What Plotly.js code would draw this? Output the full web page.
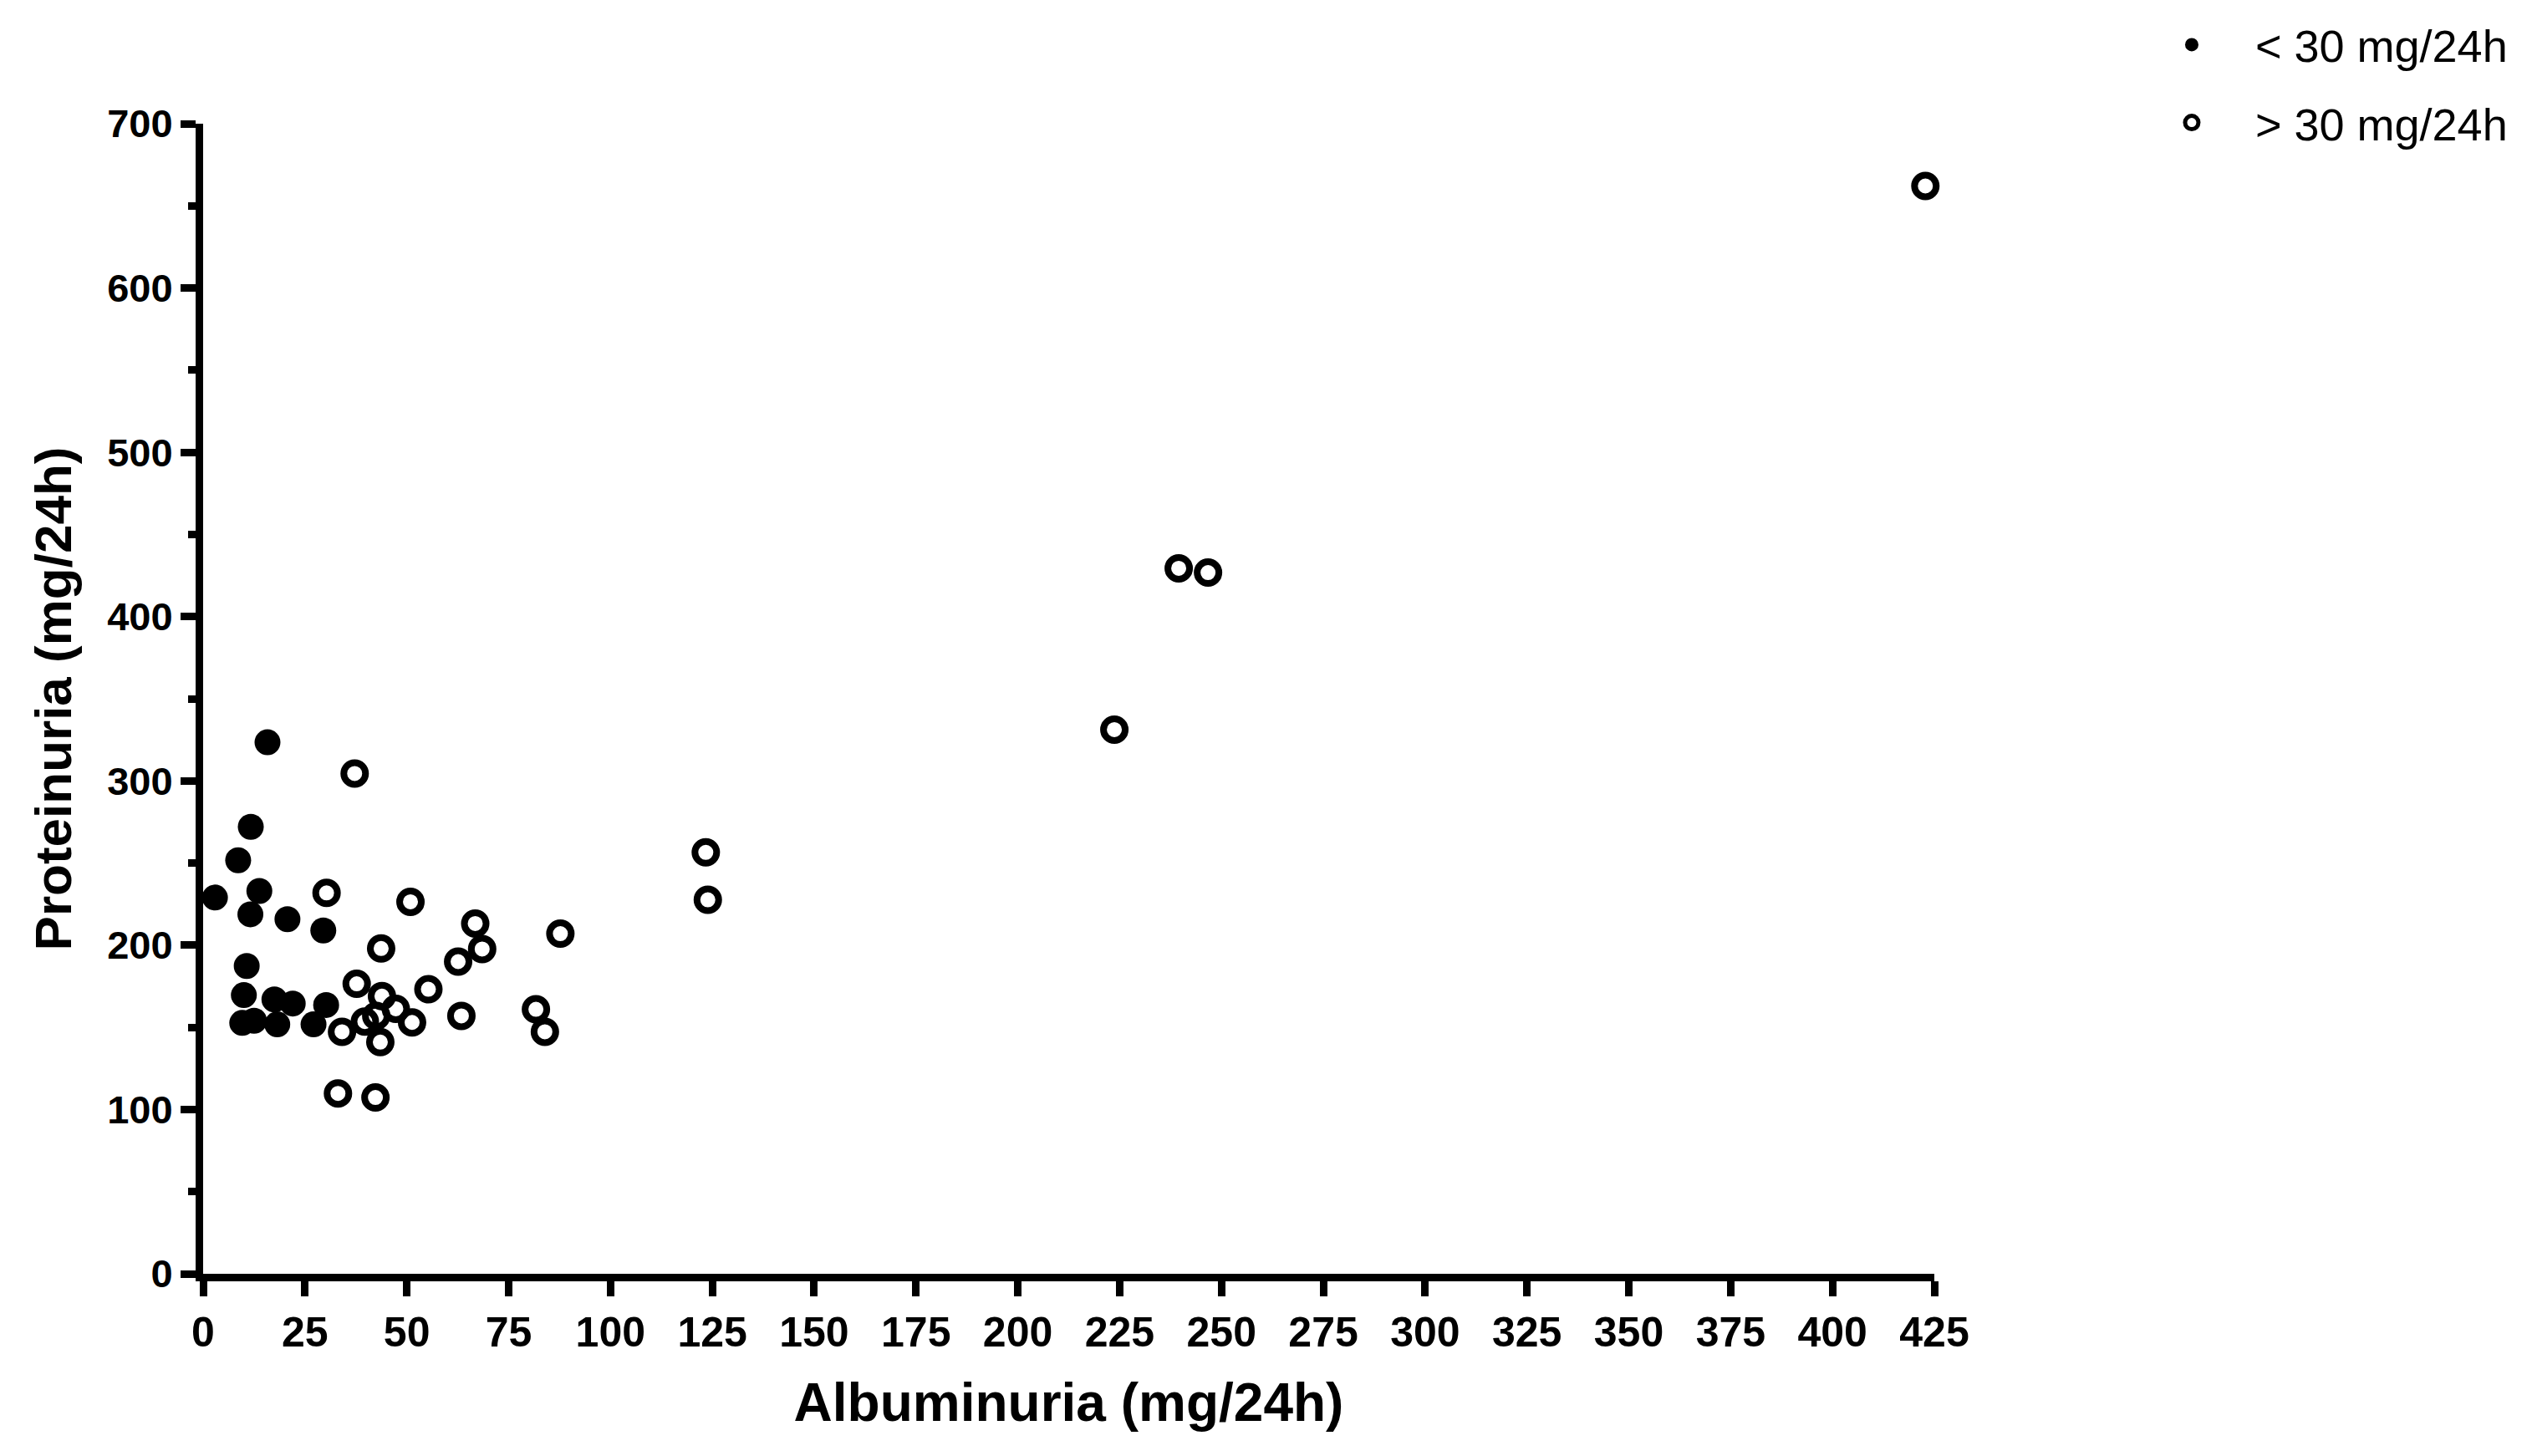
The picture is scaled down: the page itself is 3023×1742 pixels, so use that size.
<!DOCTYPE html>
<html>
<head>
<meta charset="utf-8">
<script src="https://cdn.plot.ly/plotly-3.0.1.min.js"></script>
<style>html,body{margin:0;padding:0;background:#fff;}#chart{width:3023px;height:1742px;}</style>
</head>
<body>
<div id="chart"></div>
<script>
// Albuminuria < 30 mg/24h (filled)
const lowAlb = [15.8, 11.7, 8.6, 2.9, 13.8, 11.6, 20.7, 29.5, 10.7, 10.0, 17.5, 22.0, 30.2, 9.6, 12.5, 18.2, 27.1];
const lowProt = [323.5, 272, 251.7, 229, 233, 218.8, 215.8, 209, 187.3, 169.6, 167, 164.5, 163.6, 152.7, 154, 151.8, 151.8];
// Albuminuria > 30 mg/24h (open)
const highAlb = [37.2, 30.3, 50.9, 66.8, 68.5, 62.6, 43.7, 87.7, 37.7, 55.3, 43.9, 47.3, 51.3, 63.4, 81.7, 83.9, 34.1, 43.5, 39.7, 42.5, 33.1, 42.3, 123.4, 123.9, 223.7, 239.5, 246.7, 422.8];
const highProt = [304.5, 231.8, 226.4, 213.2, 197.7, 190, 198, 207, 176.5, 173.2, 169, 161.3, 153, 157, 161, 147.3, 147.3, 141, 153.5, 157, 109.8, 107.3, 256.5, 227.6, 331.2, 429.4, 426.8, 662.1];
const xTicks = [0,25,50,75,100,125,150,175,200,225,250,275,300,325,350,375,400,425];
const yTicks = [0,100,200,300,400,500,600,700];
const seriesNames = ['< 30 mg/24h', '> 30 mg/24h'];

const FONT = 'Liberation Sans, Arial, sans-serif';

const traces = [
  {
    x: lowAlb, y: lowProt, type: 'scatter', mode: 'markers', name: seriesNames[0],
    legendgroup: 'a', cliponaxis: false,
    marker: {symbol: 'circle', size: 31, color: '#000', line: {width: 0}}
  },
  {
    x: highAlb, y: highProt, type: 'scatter', mode: 'markers', name: seriesNames[1],
    legendgroup: 'b', cliponaxis: false,
    marker: {symbol: 'circle-open', size: 26, color: '#000', line: {width: 8, color: '#000'}}
  }
];

const layout = {
  width: 3023, height: 1742,
  paper_bgcolor: '#fff', plot_bgcolor: '#fff',
  margin: {l: 243, r: 709, t: 145, b: 218, pad: 0},
  showlegend: true,
  legend: {
    x: 1.112, y: 1.099, xanchor: 'left', yanchor: 'top',
    font: {family: FONT, size: 54, color: '#000'},
    itemwidth: 142, tracegroupgap: 20, bgcolor: 'rgba(0,0,0,0)'
  },
  xaxis: {
    range: [0, 425], tickvals: xTicks, ticktext: xTicks.map(String),
    showgrid: false, zeroline: false, showline: true, linecolor: '#000', linewidth: 9,
    ticks: 'outside', ticklen: 18, tickwidth: 9, tickcolor: '#000',
    tickfont: {family: FONT, size: 50, color: '#000', weight: 'bold'},
    title: {text: '<b>Albuminuria (mg/24h)</b>', font: {family: FONT, size: 64, color: '#000'}, standoff: 38}
  },
  yaxis: {
    range: [0, 700], tickvals: yTicks, ticktext: yTicks.map(String),
    showgrid: false, zeroline: false, showline: true, linecolor: '#000', linewidth: 9,
    ticks: 'outside', ticklen: 18, tickwidth: 9, tickcolor: '#000',
    minor: {dtick: 50, tick0: 0, ticks: 'outside', ticklen: 9, tickwidth: 9, tickcolor: '#000', showgrid: false},
    tickfont: {family: FONT, size: 47, color: '#000', weight: 'bold'},
    title: {text: '<b>Proteinuria (mg/24h)</b>', font: {family: FONT, size: 62, color: '#000'}, standoff: 26}
  }
};

Plotly.newPlot('chart', traces, layout, {staticPlot: true, displayModeBar: false});
</script>
</body>
</html>
